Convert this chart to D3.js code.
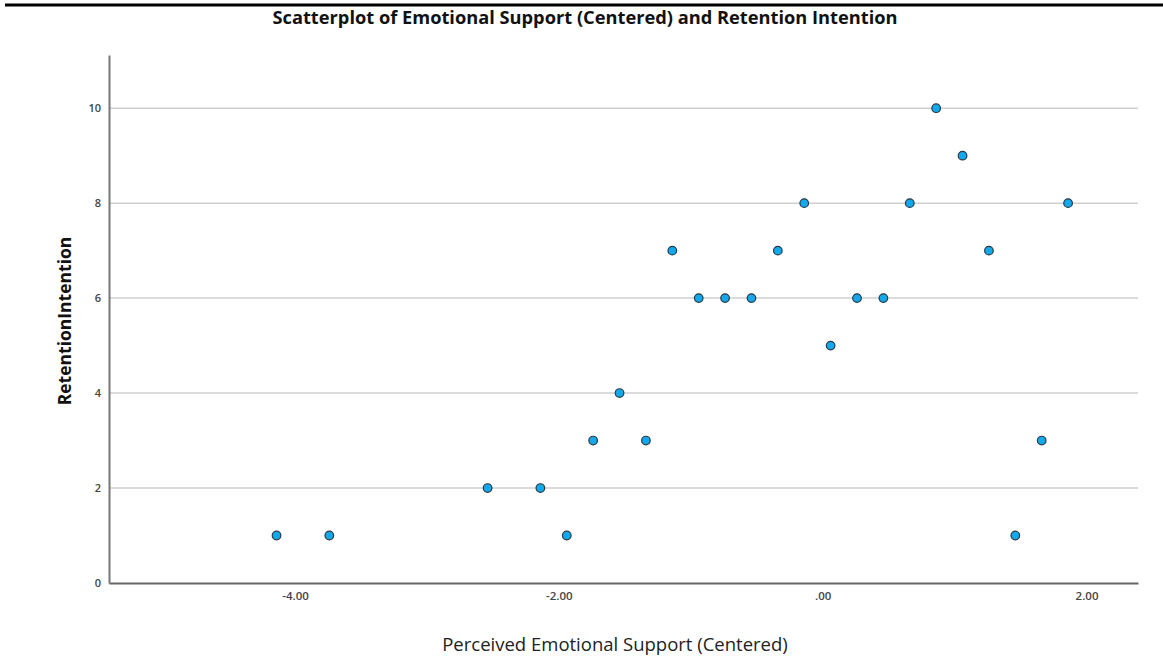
<!DOCTYPE html>
<html>
<head>
<meta charset="utf-8">
<script src="https://cdn.jsdelivr.net/npm/d3@7"></script>
<style>
  html, body { margin: 0; padding: 0; background: #fff; }
  svg { display: block; }
</style>
</head>
<body>
<svg id="chart" width="1163" height="660"></svg>
<script>
const emotionalSupport = [-4.14, -3.74, -2.54, -2.14, -1.94, -1.74, -1.54, -1.34, -1.14, -0.94, -0.74, -0.54, -0.34, -0.14, 0.06, 0.26, 0.46, 0.66, 0.86, 1.06, 1.26, 1.46, 1.66, 1.86];
const retentionIntention = [1, 1, 2, 2, 1, 3, 4, 3, 7, 6, 6, 6, 7, 8, 5, 6, 6, 8, 10, 9, 7, 1, 3, 8];
const xTicks = [-4, -2, 0, 2];
const yTicks = [0, 2, 4, 6, 8, 10];
const titleText = "Scatterplot of Emotional Support (Centered) and Retention Intention";
const xLabel = "Perceived Emotional Support (Centered)";
const yLabel = "RetentionIntention";

(function () {
const svg = d3.select("#chart");
const pLeft = 109, pRight = 1138, pTop = 55, pBottom = 583;

const x = d3.scaleLinear().domain([-5.41, 2.39]).range([pLeft, pRight]);
const y = d3.scaleLinear().domain([0, 11.12]).range([pBottom, pTop]);

// top rule
svg.append("line").attr("x1", 5).attr("x2", 1163).attr("y1", 5).attr("y2", 5)
  .attr("stroke", "#000").attr("stroke-width", 3);

// title
svg.append("text").attr("x", 585).attr("y", 24).attr("text-anchor", "middle")
  .attr("font-family", "Open Sans").attr("font-weight", "bold").attr("font-size", 18)
  .attr("textLength", 625).attr("lengthAdjust", "spacingAndGlyphs")
  .attr("fill", "#111").text(titleText);

// gridlines
svg.append("g").selectAll("line").data(yTicks.filter(d => d > 0)).join("line")
  .attr("x1", pLeft).attr("x2", pRight)
  .attr("y1", d => y(d)).attr("y2", d => y(d))
  .attr("stroke", "#cfcfcf").attr("stroke-width", 1.5);

// y axis
const yAxis = d3.axisLeft(y).tickValues(yTicks).tickSize(0).tickPadding(8).tickFormat(d3.format("d"));
const gy = svg.append("g").attr("transform", `translate(${pLeft},0)`).call(yAxis);
gy.select(".domain").attr("stroke", "#777").attr("stroke-width", 2);
gy.selectAll("text").attr("font-family", "Open Sans").attr("font-size", 11).attr("font-weight", "600").attr("fill", "#444");

// x axis
const fmt = d => d === 0 ? ".00" : d3.format(".2f")(d).replace("−", "-");
const xAxis = d3.axisBottom(x).tickValues(xTicks).tickSize(0).tickPadding(9).tickFormat(fmt);
const gx = svg.append("g").attr("transform", `translate(0,${pBottom})`).call(xAxis);
gx.select(".domain").attr("stroke", "#666").attr("stroke-width", 2);
gx.selectAll("text").attr("font-family", "Open Sans").attr("font-size", 11.5).attr("font-weight", "600").attr("fill", "#444");

// axis labels
svg.append("text").attr("x", 615).attr("y", 651).attr("text-anchor", "middle")
  .attr("font-family", "Open Sans").attr("font-size", 18.5).attr("fill", "#222").text(xLabel);
svg.append("text").attr("transform", "translate(71,321) rotate(-90)").attr("text-anchor", "middle")
  .attr("font-family", "Open Sans").attr("font-weight", "bold").attr("font-size", 17.5).attr("fill", "#111").text(yLabel);

// points
svg.append("g").selectAll("circle").data(emotionalSupport.map((v, i) => [v, retentionIntention[i]])).join("circle")
  .attr("cx", d => x(d[0])).attr("cy", d => y(d[1])).attr("r", 4.3)
  .attr("fill", "#12a8ec").attr("stroke", "#2b3a44").attr("stroke-width", 1.2);
})();
</script>
</body>
</html>
